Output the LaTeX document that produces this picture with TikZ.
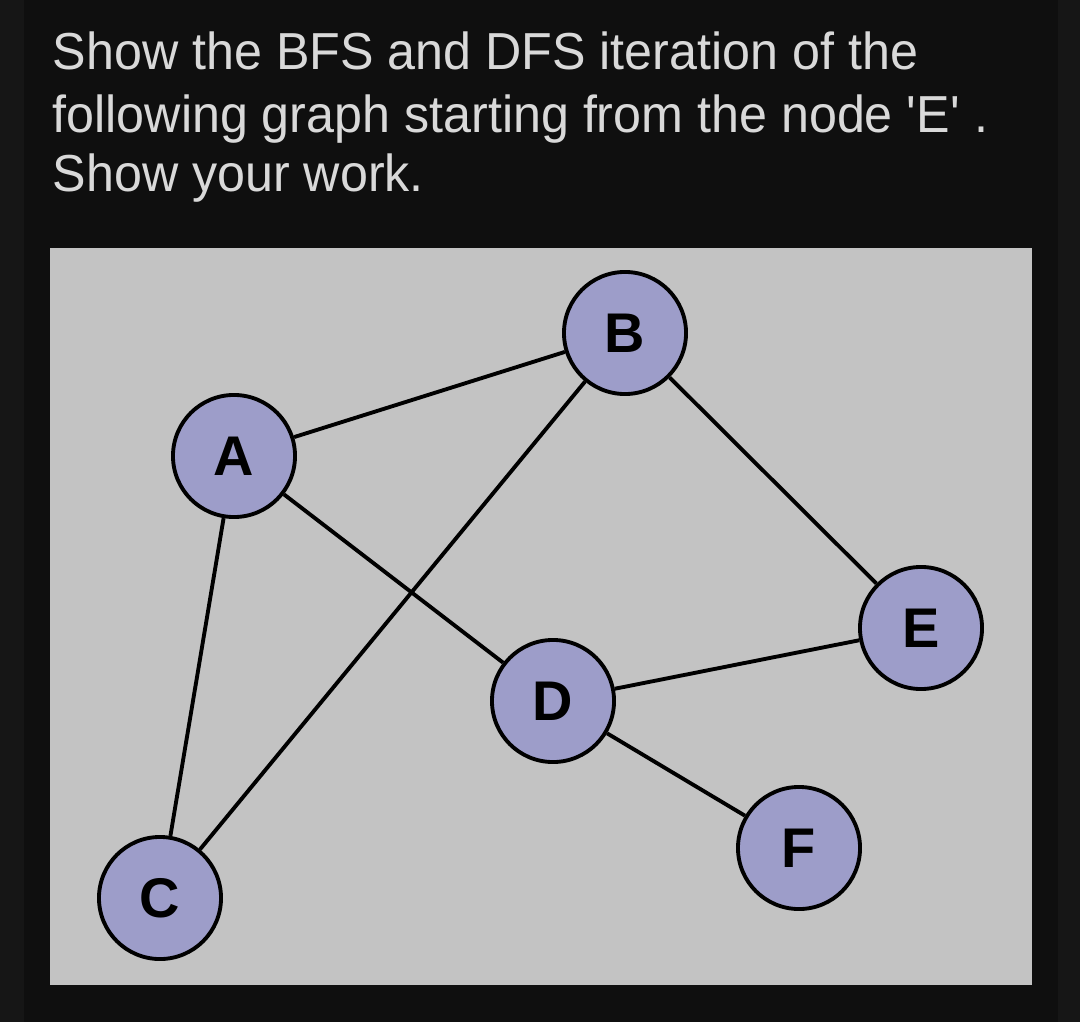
\documentclass[tikz,border=0pt]{standalone}
\usepackage{fontspec}
\setmainfont{Liberation Sans}[FakeStretch=0.965]
\newfontfamily\vertexfont{Liberation Sans}
\usepackage{xcolor}
\usetikzlibrary{positioning}
\definecolor{pagebg}{HTML}{0F0F0F}
\definecolor{stripbg}{HTML}{161616}
\definecolor{panelbg}{HTML}{C3C3C3}
\definecolor{nodefill}{HTML}{9D9DC9}
\definecolor{qtext}{HTML}{D9D9D9}
\tikzstyle{edge} = [line width=1.1pt, black]

\begin{document}
\begin{tikzpicture}[
        x=0.01cm, y=-0.01cm,
        vertex/.style={circle, fill=nodefill, draw=black, line width=1.1pt,
            minimum size=1.22cm, inner sep=0pt, font=\vertexfont\fontsize{15.9}{18}\selectfont\bfseries},
        question/.style={anchor=base west, text=qtext, inner sep=0pt, font=\fontsize{14.8}{18}\selectfont},
    ]
        % background and panel
        \fill[pagebg] (0,0) rectangle (1080,1022);
        \fill[stripbg] (0,0) rectangle (24,1022);
        \fill[stripbg] (1058,0) rectangle (1080,1022);
        \fill[panelbg] (50,248) rectangle (1032,985);

        \node[question] (line1) at (52,70) {Show the BFS and DFS iteration of the};
        \node[question] (line2) at (52,133) {following graph starting from the node \textquotesingle E\textquotesingle\ .};
        \node[question] (line3) at (52,192) {Show your work.};

        % graph
        \node[vertex] (B) at (625,333) {B};
        \node[vertex] (A) at (234,456) {A};
        \node[vertex] (E) at (921,628) {E};
        \node[vertex] (D) at (553,701) {D};
        \node[vertex] (F) at (799,848) {F};
        \node[vertex] (C) at (160,898) {C};

        \draw[edge] (A) -- (B);
        \draw[edge] (B) -- (C);
        \draw[edge] (A) -- (D);
        \draw[edge] (A) -- (C);
        \draw[edge] (B) -- (E);
        \draw[edge] (D) -- (E);
        \draw[edge] (D) -- (F);
    \end{tikzpicture}
\end{document}
